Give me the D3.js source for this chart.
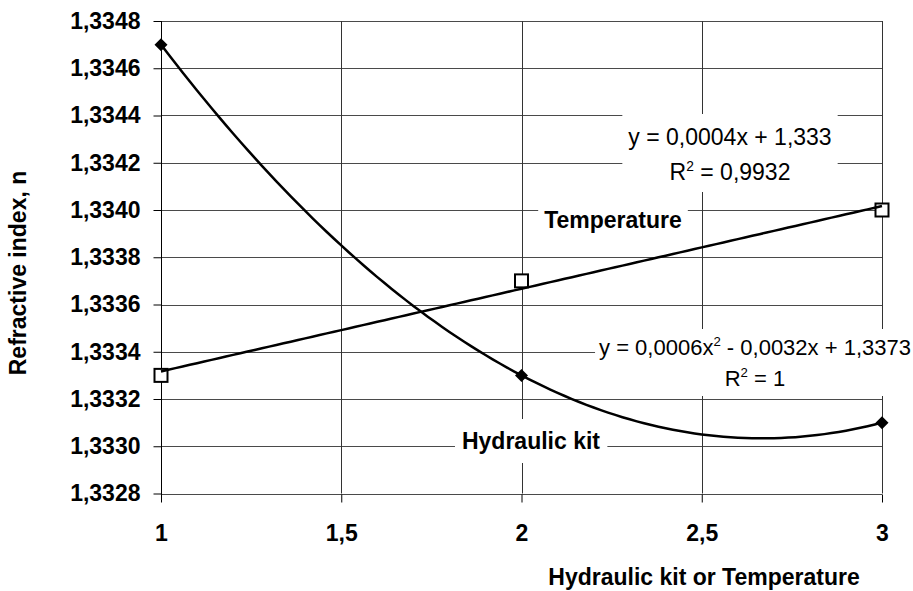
<!DOCTYPE html>
<html>
<head>
<meta charset="utf-8">
<script src="https://cdn.jsdelivr.net/npm/d3@7"></script>
<style>
  body { margin: 0; background: #fff; }
  text { font-family: "Liberation Sans", Arial, sans-serif; }
</style>
</head>
<body>
<svg id="chart" width="913" height="591"></svg>
<script>
// data
var xValues = [1, 2, 3];
var hydraulicKit = [1.3347, 1.3333, 1.3331];
var temperature = [1.3333, 1.3337, 1.3340];

// printed polynomial trendline for hydraulic kit (a*x^2 + b*x + c)
var hydraulicFit = [0.0006, -0.0032, 1.3373];

var xTicks = [1, 1.5, 2, 2.5, 3];
var yTicks = [1.3328, 1.3330, 1.3332, 1.3334, 1.3336, 1.3338, 1.3340, 1.3342, 1.3344, 1.3346, 1.3348];

var svg = d3.select("#chart");

var x = d3.scaleLinear().domain([1, 3]).range([161, 882]);
var y = d3.scaleLinear().domain([1.3328, 1.3348]).range([493.5, 21]);

var comma = function(s) { return String(s).replace(".", ","); };

// gridlines
var grid = svg.append("g").attr("class", "grid");
grid.selectAll("line.h")
    .data(yTicks)
    .enter().append("line")
    .attr("class", "h")
    .attr("x1", x(1)).attr("x2", x(3))
    .attr("y1", function(d) { return Math.round(y(d)) + 0.5; })
    .attr("y2", function(d) { return Math.round(y(d)) + 0.5; })
    .attr("stroke", "#4a4a4a").attr("stroke-width", 1);
grid.selectAll("line.v")
    .data(xTicks.slice(1))
    .enter().append("line")
    .attr("class", "v")
    .attr("x1", function(d) { return Math.round(x(d)) + 0.5; })
    .attr("x2", function(d) { return Math.round(x(d)) + 0.5; })
    .attr("y1", y(1.3348)).attr("y2", y(1.3328))
    .attr("stroke", "#333").attr("stroke-width", 1);

// axes
var yAxis = svg.append("g")
    .attr("transform", "translate(" + (Math.round(x(1)) + 0.5) + ",0)")
    .call(d3.axisLeft(y).tickValues(yTicks).tickSize(8).tickPadding(13)
          .tickFormat(function(d) { return comma(d3.format(".4f")(d)); }));
yAxis.select(".domain").attr("stroke", "#000").attr("d", "M0," + y(1.3348) + "V" + (y(1.3328) + 8));

var xAxis = svg.append("g")
    .attr("transform", "translate(0," + (Math.round(y(1.3328)) + 0.5) + ")")
    .call(d3.axisBottom(x).tickValues(xTicks).tickSize(8).tickPadding(22)
          .tickFormat(function(d) { return comma(d); }));
xAxis.select(".domain").remove();

svg.selectAll(".tick text")
    .attr("font-family", "Liberation Sans, Arial, sans-serif")
    .attr("font-size", 23)
    .attr("font-weight", "bold")
    .attr("fill", "#000");
svg.selectAll(".tick line").attr("stroke", "#000");

// axis titles
svg.append("text")
    .attr("transform", "translate(26,273) rotate(-90)")
    .attr("text-anchor", "middle")
    .attr("font-size", 23).attr("font-weight", "bold")
    .text("Refractive index, n");
svg.append("text")
    .attr("x", 704).attr("y", 585)
    .attr("text-anchor", "middle")
    .attr("font-size", 23).attr("font-weight", "bold")
    .text("Hydraulic kit or Temperature");

// labels with white boxes, drawn before the curves
function label(cx, lines, opts) {
    var g = svg.append("g");
    var rect = g.append("rect").attr("fill", "#fff");
    var t = g.append("text")
        .attr("text-anchor", "middle")
        .attr("font-size", opts.size)
        .attr("font-weight", opts.bold ? "bold" : "normal");
    lines.forEach(function(line) {
        var tl = t.append("tspan").attr("x", cx).attr("y", line.y);
        line.parts.forEach(function(p) {
            if (p.sup) {
                tl.append("tspan").attr("font-size", opts.size * 0.6).attr("dy", -9).text(p.text);
            } else {
                tl.append("tspan").attr("dy", p.after ? 9 : 0).text(p.text);
            }
        });
    });
    var b = t.node().getBBox();
    rect.attr("x", b.x - opts.px).attr("y", b.y - opts.pt)
        .attr("width", b.width + 2 * opts.px).attr("height", b.height + opts.pt + opts.pb);
}

label(730, [
    {y: 145, parts: [{text: "y = 0,0004x + 1,333"}]},
    {y: 180, parts: [{text: "R"}, {text: "2", sup: true}, {text: " = 0,9932", after: true}]}
], {size: 23, px: 6, pt: 10, pb: 7});

label(755, [
    {y: 355, parts: [{text: "y = 0,0006x"}, {text: "2", sup: true}, {text: " - 0,0032x + 1,3373", after: true}]},
    {y: 386, parts: [{text: "R"}, {text: "2", sup: true}, {text: " = 1", after: true}]}
], {size: 22, px: 4, pt: 5, pb: 5});

label(613, [{y: 228, parts: [{text: "Temperature"}]}], {size: 23, bold: true, px: 6, pt: 7, pb: 7});
label(531, [{y: 449, parts: [{text: "Hydraulic kit"}]}], {size: 23, bold: true, px: 7, pt: 9, pb: 9});

// least squares line for temperature
var mx = d3.mean(xValues), my = d3.mean(temperature);
var slope = d3.sum(xValues, function(d, i) { return (d - mx) * (temperature[i] - my); }) /
            d3.sum(xValues, function(d) { return (d - mx) * (d - mx); });
var intercept = my - slope * mx;

var samples = d3.range(1, 3.0001, 0.02);
var line = d3.line().x(function(d) { return x(d[0]); }).y(function(d) { return y(d[1]); });

// temperature markers (hollow squares)
svg.selectAll("rect.temp")
    .data(xValues)
    .enter().append("rect")
    .attr("class", "temp")
    .attr("x", function(d) { return x(d) - 6.5; })
    .attr("y", function(d, i) { return y(temperature[i]) - 6.5; })
    .attr("width", 13).attr("height", 13)
    .attr("fill", "#fff").attr("stroke", "#000").attr("stroke-width", 2);

// trendlines
svg.append("path")
    .attr("d", line(samples.map(function(t) { return [t, slope * t + intercept]; })))
    .attr("fill", "none").attr("stroke", "#000").attr("stroke-width", 2.5);
svg.append("path")
    .attr("d", line(samples.map(function(t) {
        return [t, hydraulicFit[0] * t * t + hydraulicFit[1] * t + hydraulicFit[2]];
    })))
    .attr("fill", "none").attr("stroke", "#000").attr("stroke-width", 2.5);

// hydraulic kit markers (filled diamonds)
svg.selectAll("path.hyd")
    .data(xValues)
    .enter().append("path")
    .attr("class", "hyd")
    .attr("transform", function(d, i) { return "translate(" + x(d) + "," + y(hydraulicKit[i]) + ")"; })
    .attr("d", "M0,-6.5L6.5,0L0,6.5L-6.5,0Z")
    .attr("fill", "#000");
</script>
</body>
</html>
